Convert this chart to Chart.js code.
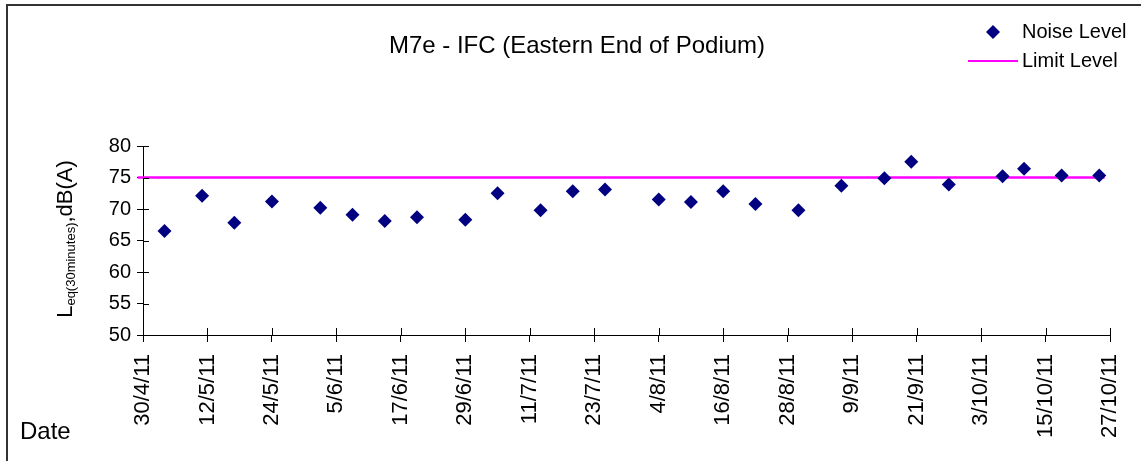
<!DOCTYPE html>
<html>
<head>
<meta charset="utf-8">
<script src="https://cdn.jsdelivr.net/npm/chart.js@4/dist/chart.umd.min.js"></script>
<style>
  html, body { margin: 0; padding: 0; background: #fff; }
  #c { display: block; }
</style>
</head>
<body>
<canvas id="c" width="1141" height="461"></canvas>
<script>
const chartTitle = 'M7e - IFC (Eastern End of Podium)';
const noiseDates = ['2011-05-04','2011-05-11','2011-05-17','2011-05-24','2011-06-02','2011-06-08','2011-06-14','2011-06-20','2011-06-29','2011-07-05','2011-07-13','2011-07-19','2011-07-25','2011-08-04','2011-08-10','2011-08-16','2011-08-22','2011-08-30','2011-09-07','2011-09-15','2011-09-20','2011-09-27','2011-10-07','2011-10-11','2011-10-18','2011-10-25'];
const noiseValues = [66.5,72.1,67.8,71.2,70.2,69.1,68.1,68.7,68.3,72.5,69.8,72.8,73.1,71.5,71.1,72.8,70.8,69.8,73.7,74.9,77.5,73.9,75.2,76.4,75.3,75.3];
const limitDates = ['2011-04-29','2011-10-26'];
const limitValues = [75, 75];
const xTickLabels = ['30/4/11','12/5/11','24/5/11','5/6/11','17/6/11','29/6/11','11/7/11','23/7/11','4/8/11','16/8/11','28/8/11','9/9/11','21/9/11','3/10/11','15/10/11','27/10/11'];
const yTickValues = [50,55,60,65,70,75,80];
const startDate = '2011-04-30';
const tickStepDays = 12;

const FONT = '"Liberation Sans", Arial, sans-serif';
function dayOf(s) {
  const [y, m, d] = s.split('-').map(Number);
  const [y0, m0, d0] = startDate.split('-').map(Number);
  return (Date.UTC(y, m - 1, d) - Date.UTC(y0, m0 - 1, d0)) / 86400000;
}
const noisePts = noiseDates.map((d, i) => ({ x: dayOf(d), y: noiseValues[i] }));
const limitPts = limitDates.map((d, i) => ({ x: dayOf(d), y: limitValues[i] }));
const xMax = (xTickLabels.length - 1) * tickStepDays;

const decor = {
  id: 'decor',
  beforeDraw(chart) {
    const ctx = chart.ctx;
    ctx.save();
    ctx.fillStyle = '#fff';
    ctx.fillRect(0, 0, chart.width, chart.height);
    ctx.strokeStyle = '#333';
    ctx.lineWidth = 2;
    ctx.beginPath();
    ctx.moveTo(7, chart.height + 5);
    ctx.lineTo(7, 5);
    ctx.lineTo(chart.width + 5, 5);
    ctx.stroke();
    ctx.restore();
  },
  afterDraw(chart) {
    const ctx = chart.ctx;
    const xs = chart.scales.x, ys = chart.scales.y;
    ctx.save();
    ctx.strokeStyle = '#000';
    ctx.lineWidth = 1;
    ctx.beginPath();
    ys.ticks.forEach((t, i) => {
      const py = Math.round(ys.getPixelForTick(i)) + 0.5;
      ctx.moveTo(chart.chartArea.left, py);
      ctx.lineTo(chart.chartArea.left + 6, py);
    });
    xs.ticks.forEach((t, i) => {
      const px = Math.round(xs.getPixelForTick(i)) + 0.5;
      ctx.moveTo(px, chart.chartArea.bottom);
      ctx.lineTo(px, chart.chartArea.bottom - 7);
    });
    ctx.stroke();

    ctx.fillStyle = '#000';
    ctx.font = '24px ' + FONT;
    ctx.textAlign = 'center';
    ctx.textBaseline = 'middle';
    ctx.fillText(chartTitle, 577, 46);

    ctx.font = '24px ' + FONT;
    ctx.textAlign = 'left';
    ctx.fillText('Date', 20, 432);

    ctx.save();
    ctx.translate(72, 239);
    ctx.rotate(-Math.PI / 2);
    ctx.textBaseline = 'alphabetic';
    const big = '22px ' + FONT, small = '13px ' + FONT;
    ctx.font = big; const wL = ctx.measureText('L').width;
    ctx.font = small; const wS = ctx.measureText('eq(30minutes)').width;
    ctx.font = big; const wR = ctx.measureText(',dB(A)').width;
    let x0 = -(wL + wS + wR) / 2;
    ctx.font = big; ctx.fillText('L', x0, 0); x0 += wL;
    ctx.font = small; ctx.fillText('eq(30minutes)', x0, 3); x0 += wS;
    ctx.font = big; ctx.fillText(',dB(A)', x0, 0);
    ctx.restore();

    const ds0 = chart.data.datasets[0], ds1 = chart.data.datasets[1];
    ctx.fillStyle = ds0.backgroundColor;
    ctx.beginPath();
    ctx.moveTo(993 - 7, 32); ctx.lineTo(993, 25); ctx.lineTo(1000, 32); ctx.lineTo(993, 39); ctx.closePath();
    ctx.fill();
    ctx.strokeStyle = ds1.borderColor;
    ctx.lineWidth = 2;
    ctx.beginPath();
    ctx.moveTo(968, 61); ctx.lineTo(1018, 61);
    ctx.stroke();
    ctx.fillStyle = '#000';
    ctx.font = '20px ' + FONT;
    ctx.textAlign = 'left';
    ctx.textBaseline = 'middle';
    ctx.fillText(ds0.label, 1022, 32);
    ctx.fillText(ds1.label, 1022, 61);
    ctx.restore();
  }
};

new Chart(document.getElementById('c'), {
  type: 'scatter',
  data: {
    datasets: [
      {
        label: 'Noise Level',
        data: noisePts,
        pointStyle: 'rectRot',
        pointRadius: 7,
        pointHoverRadius: 7,
        backgroundColor: '#000080',
        borderColor: '#000080',
        borderWidth: 0,
        showLine: false,
        order: 0
      },
      {
        label: 'Limit Level',
        data: limitPts,
        showLine: true,
        borderColor: '#FF00FF',
        backgroundColor: '#FF00FF',
        borderWidth: 2.5,
        pointRadius: 0,
        clip: false,
        order: 1
      }
    ]
  },
  options: {
    responsive: false,
    animation: false,
    layout: { padding: { top: 146, right: 31, left: 0, bottom: 0 } },
    plugins: { legend: { display: false }, title: { display: false }, tooltip: { enabled: false } },
    scales: {
      x: {
        type: 'linear',
        min: 0,
        max: xMax,
        afterFit(s) { s.height = 126; s.paddingLeft = 0; s.paddingRight = 0; },
        afterBuildTicks(s) { s.ticks = xTickLabels.map((_, i) => ({ value: i * tickStepDays })); },
        ticks: {
          autoSkip: false,
          minRotation: 90,
          maxRotation: 90,
          padding: 12,
          color: '#000',
          font: { family: FONT, size: 22 },
          callback: (v, i) => xTickLabels[i]
        },
        grid: { drawOnChartArea: false, tickLength: 7, color: '#000', tickColor: '#000' },
        border: { color: '#000', width: 1 }
      },
      y: {
        min: 50,
        max: 80,
        afterFit(s) { s.width = 143; s.paddingTop = 0; s.paddingBottom = 0; },
        afterBuildTicks(s) { s.ticks = yTickValues.map(v => ({ value: v })); },
        ticks: {
          padding: 6,
          color: '#000',
          font: { family: FONT, size: 20 }
        },
        grid: { drawOnChartArea: false, tickLength: 6, color: '#000', tickColor: '#000' },
        border: { color: '#000', width: 1 }
      }
    }
  },
  plugins: [decor]
});
</script>
</body>
</html>
